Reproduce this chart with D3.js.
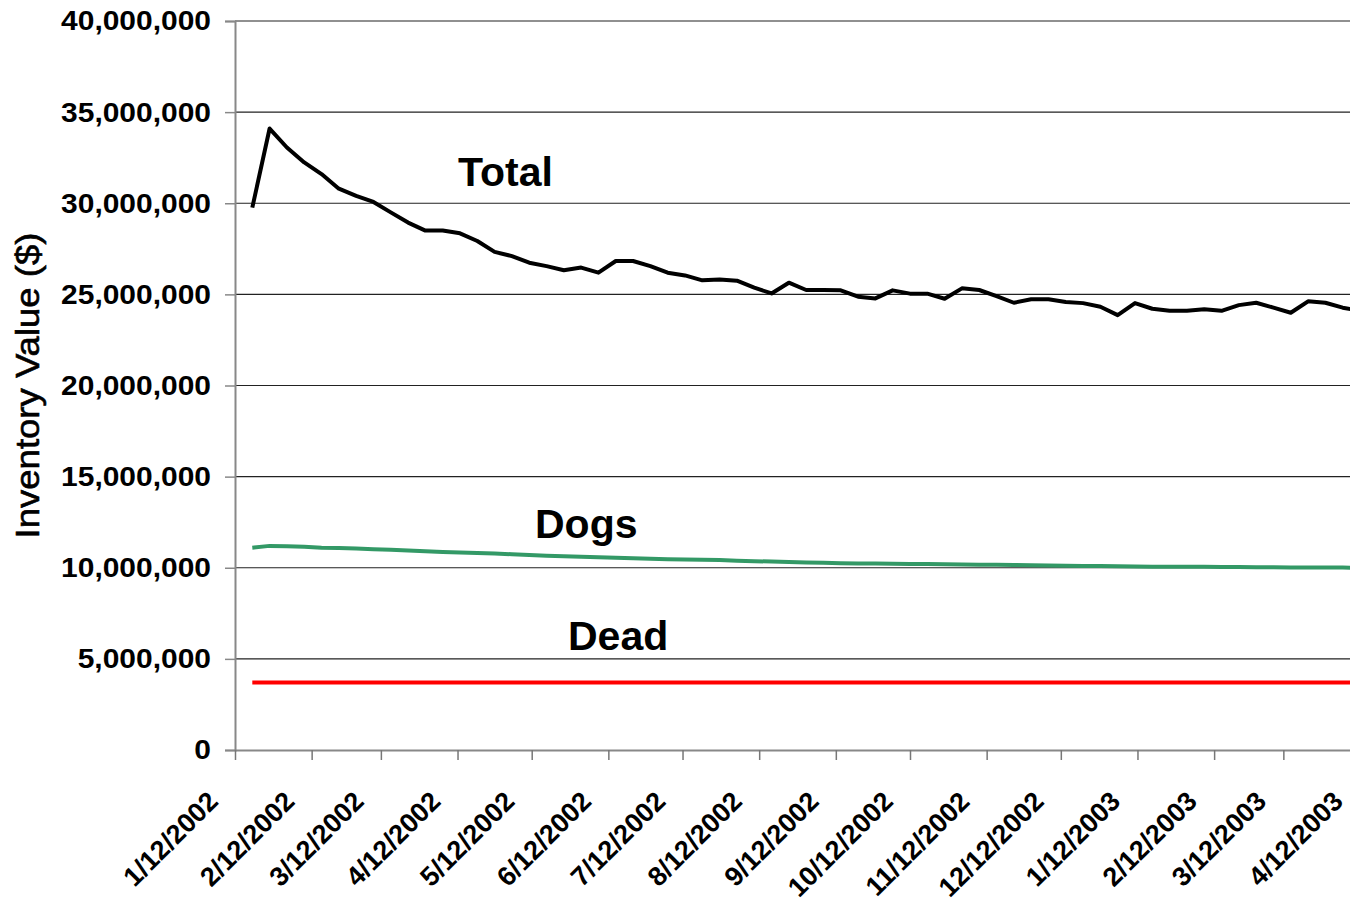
<!DOCTYPE html>
<html>
<head>
<meta charset="utf-8">
<script src="https://cdn.jsdelivr.net/npm/d3@7"></script>
<style>
  body { margin: 0; background: #fff; }
  text { font-family: "Liberation Sans", Arial, sans-serif; }
</style>
</head>
<body>
<script>
// weekly observations (Saturdays)
const dates = [
  "1/19/2002","1/26/2002","2/2/2002","2/9/2002","2/16/2002","2/23/2002","3/2/2002","3/9/2002","3/16/2002","3/23/2002",
  "3/30/2002","4/6/2002","4/13/2002","4/20/2002","4/27/2002","5/4/2002","5/11/2002","5/18/2002","5/25/2002","6/1/2002",
  "6/8/2002","6/15/2002","6/22/2002","6/29/2002","7/6/2002","7/13/2002","7/20/2002","7/27/2002","8/3/2002","8/10/2002",
  "8/17/2002","8/24/2002","8/31/2002","9/7/2002","9/14/2002","9/21/2002","9/28/2002","10/5/2002","10/12/2002","10/19/2002",
  "10/26/2002","11/2/2002","11/9/2002","11/16/2002","11/23/2002","11/30/2002","12/7/2002","12/14/2002","12/21/2002","12/28/2002",
  "1/4/2003","1/11/2003","1/18/2003","1/25/2003","2/1/2003","2/8/2003","2/15/2003","2/22/2003","3/1/2003","3/8/2003",
  "3/15/2003","3/22/2003","3/29/2003","4/5/2003","4/12/2003"
];

// values in millions of $
const total = [
  29.76,34.10,33.06,32.24,31.60,30.80,30.40,30.07,29.50,28.94,
  28.50,28.50,28.35,27.93,27.33,27.10,26.74,26.55,26.32,26.47,
  26.19,26.83,26.83,26.55,26.19,26.04,25.77,25.82,25.75,25.37,
  25.05,25.64,25.24,25.24,25.22,24.87,24.78,25.22,25.04,25.04,
  24.76,25.33,25.24,24.91,24.54,24.73,24.73,24.58,24.52,24.32,
  23.86,24.52,24.21,24.10,24.10,24.18,24.10,24.41,24.54,24.27,
  23.99,24.62,24.54,24.27,24.10
];
const dogs = [
  11.10,11.20,11.18,11.15,11.10,11.08,11.05,11.02,10.99,10.95,
  10.90,10.87,10.84,10.81,10.78,10.74,10.70,10.66,10.63,10.61,
  10.58,10.55,10.52,10.49,10.47,10.45,10.44,10.42,10.39,10.36,
  10.34,10.31,10.29,10.27,10.25,10.24,10.23,10.22,10.21,10.20,
  10.19,10.18,10.17,10.16,10.15,10.14,10.13,10.11,10.10,10.09,
  10.08,10.07,10.06,10.06,10.05,10.05,10.04,10.04,10.03,10.03,
  10.02,10.02,10.01,10.01,10.00
];
const dead = [
  3.70,3.70,3.70,3.70,3.70,3.70,3.70,3.70,3.70,3.70,
  3.70,3.70,3.70,3.70,3.70,3.70,3.70,3.70,3.70,3.70,
  3.70,3.70,3.70,3.70,3.70,3.70,3.70,3.70,3.70,3.70,
  3.70,3.70,3.70,3.70,3.70,3.70,3.70,3.70,3.70,3.70,
  3.70,3.70,3.70,3.70,3.70,3.70,3.70,3.70,3.70,3.70,
  3.70,3.70,3.70,3.70,3.70,3.70,3.70,3.70,3.70,3.70,
  3.70,3.70,3.70,3.70,3.70
];

const tickLabels = ["1/12/2002","2/12/2002","3/12/2002","4/12/2002","5/12/2002","6/12/2002","7/12/2002","8/12/2002",
  "9/12/2002","10/12/2002","11/12/2002","12/12/2002","1/12/2003","2/12/2003","3/12/2003","4/12/2003"];
const yTicks = [0,5,10,15,20,25,30,35,40];

const seriesNames = ["Total","Dogs","Dead"];

const parse = d3.timeParse("%m/%d/%Y");
const W = 1350, H = 904;
const mLeft = 235, mRight = 1360, mTop = 21, mBottom = 750;

const svg = d3.select("body").append("svg").attr("width", W).attr("height", H);

const x = d3.scaleTime()
  .domain([parse(tickLabels[0]), parse(tickLabels[tickLabels.length - 1])])
  .range([mLeft, mRight]);
const y = d3.scaleLinear().domain([0, 40]).range([mBottom, mTop]);

// gridlines
svg.append("g").selectAll("line")
  .data(yTicks.filter(d => d > 0))
  .enter().append("line")
  .attr("x1", mLeft).attr("x2", W)
  .attr("y1", d => y(d)).attr("y2", d => y(d))
  .attr("stroke", "#222").attr("stroke-width", 1.2);

// y axis
const yAxis = svg.append("g")
  .attr("transform", `translate(${mLeft},0)`)
  .call(d3.axisLeft(y).tickValues(yTicks).tickSize(10).tickPadding(14)
    .tickFormat(d => d3.format(",")(d * 1e6)));
yAxis.select(".domain").attr("stroke", "#888").attr("stroke-width", 2);
yAxis.selectAll(".tick line").attr("stroke", "#888").attr("stroke-width", 1.5);
yAxis.selectAll(".tick text")
  .attr("font-size", 28).attr("font-weight", "bold").attr("fill", "#000")
  .attr("font-family", "Liberation Sans, Arial, sans-serif")
  .each(function() {
    // labels in the original are drawn slightly wider
    const w = this.getComputedTextLength();
    d3.select(this).attr("textLength", w * 1.07).attr("lengthAdjust", "spacingAndGlyphs");
  });

// x axis
const xAxis = svg.append("g")
  .attr("transform", `translate(0,${mBottom})`)
  .call(d3.axisBottom(x).tickValues(tickLabels.map(parse)).tickSize(10).tickSizeOuter(0)
    .tickFormat(d3.timeFormat("%-m/%-d/%Y")));
xAxis.select(".domain").attr("stroke", "#888").attr("stroke-width", 2);
xAxis.selectAll(".tick line").attr("stroke", "#777").attr("stroke-width", 1.5);
xAxis.selectAll(".tick text")
  .attr("font-size", 27).attr("font-weight", "bold").attr("fill", "#000")
  .attr("font-family", "Liberation Sans, Arial, sans-serif")
  .attr("text-anchor", "end")
  .attr("dy", 0).attr("y", 0)
  .attr("transform", "translate(-16,53) rotate(-45)");

// y title
svg.append("text")
  .attr("transform", `translate(39,${(mTop + mBottom) / 2}) rotate(-90)`)
  .attr("text-anchor", "middle")
  .attr("font-size", 33)
  .attr("fill", "#000")
  .attr("stroke", "#000").attr("stroke-width", 0.6)
  .attr("textLength", 306).attr("lengthAdjust", "spacingAndGlyphs")
  .text("Inventory Value ($)");

// lines
const line = d3.line()
  .x((d, i) => x(parse(dates[i])))
  .y(d => y(d));

svg.append("path").datum(dead).attr("d", line)
  .attr("fill", "none").attr("stroke", "#ff0000").attr("stroke-width", 4);
svg.append("path").datum(dogs).attr("d", line)
  .attr("fill", "none").attr("stroke", "#339966").attr("stroke-width", 4);
svg.append("path").datum(total).attr("d", line)
  .attr("fill", "none").attr("stroke", "#000").attr("stroke-width", 4)
  .attr("stroke-linejoin", "round");

// series labels
const labelPos = [[458, 186], [535, 538], [568, 650]];
svg.append("g").selectAll("text")
  .data(seriesNames)
  .enter().append("text")
  .attr("x", (d, i) => labelPos[i][0])
  .attr("y", (d, i) => labelPos[i][1])
  .attr("font-size", 41).attr("font-weight", "bold")
  .text(d => d);
</script>
</body>
</html>
